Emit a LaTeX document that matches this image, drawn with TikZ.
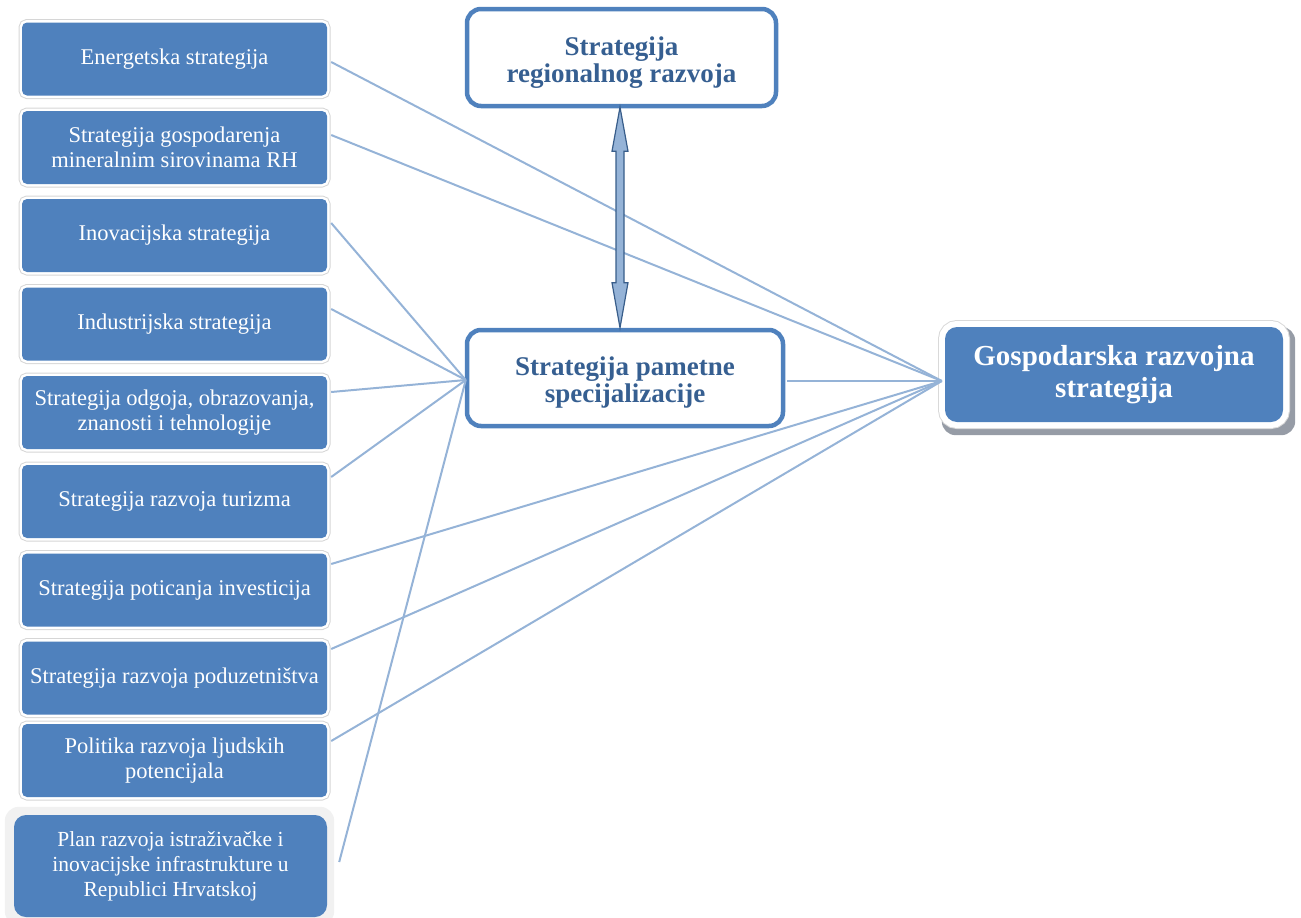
\documentclass[tikz,border=0pt]{standalone}
\usepackage{fontspec}
\setmainfont{Liberation Serif}
\usetikzlibrary{calc,backgrounds}
\definecolor{boxblue}{RGB}{79,129,189}
\definecolor{linkblue}{RGB}{149,179,215}
\definecolor{txtblue}{RGB}{54,95,145}
\definecolor{arrowline}{RGB}{56,93,138}
\definecolor{arrowfill}{RGB}{149,179,215}
\definecolor{planbg}{RGB}{241,241,241}
\definecolor{shadowgray}{RGB}{150,156,166}
\tikzset{
  leftbox/.style={rectangle, rounded corners=5pt, fill=boxblue, text=white,
    minimum width=305pt, minimum height=73pt, align=center, inner sep=0pt,
    font=\fontsize{22.5}{25}\selectfont,
    preaction={draw=black!16, line width=7pt},
    preaction={draw=white, line width=5pt}},
  planbox/.style={rectangle, rounded corners=12pt, fill=boxblue, text=white,
    minimum width=313pt, minimum height=102pt, align=center, inner sep=0pt,
    font=\fontsize{21.5}{25}\selectfont},
  mainbox/.style={rectangle, rounded corners=14pt, draw=boxblue, line width=4.5pt,
    fill=white, text=txtblue, align=center, inner sep=0pt,
    font=\bfseries\fontsize{27}{27}\selectfont},
  gosbox/.style={rectangle, rounded corners=12pt, fill=boxblue, text=white,
    minimum width=338pt, minimum height=95pt, align=center, inner sep=0pt,
    font=\bfseries\fontsize{29}{32}\selectfont,
    preaction={draw=black!15, line width=14pt},
    preaction={draw=white, line width=12pt}},
  link/.style={draw=linkblue, line width=2pt},
  blockarrow/.style={draw=arrowline, fill=arrowfill, line width=1.2pt, line join=miter}
}
\begin{document}
\begin{tikzpicture}[x=1pt,y=-1pt]
\useasboundingbox (0,0) rectangle (1301,918);

% left column
\node[leftbox] (b1) at (174.5,59) {Energetska strategija};
\node[leftbox] (b2) at (174.5,147.5) {Strategija gospodarenja\\mineralnim sirovinama RH};
\node[leftbox] (b3) at (174.5,235.5) {Inovacijska strategija};
\node[leftbox] (b4) at (174.5,324) {Industrijska strategija};
\node[leftbox] (b5) at (174.5,412.5) {Strategija odgoja, obrazovanja,\\znanosti i tehnologije};
\node[leftbox] (b6) at (174.5,501.5) {Strategija razvoja turizma};
\node[leftbox] (b7) at (174.5,590) {Strategija poticanja investicija};
\node[leftbox] (b8) at (174.5,678) {Strategija razvoja poduzetništva};
\node[leftbox] (b9) at (174.5,760.5) {Politika razvoja ljudskih\\potencijala};
\node[planbox] (b10) at (170.5,866) {Plan razvoja istraživačke i\\inovacijske infrastrukture u\\Republici Hrvatskoj};
\begin{scope}[on background layer]
  \fill[planbg, rounded corners=14pt] ($(b10.north west)+(-9,-8)$) rectangle ($(b10.south east)+(7,8)$);
\end{scope}

% centre and right
\node[mainbox, minimum width=309pt, minimum height=97pt] (top) at (621.5,57.5) {\rule{0pt}{28pt}Strategija\\regionalnog razvoja};
\node[mainbox, minimum width=316pt, minimum height=96pt] (mid) at (625,378) {\rule{0pt}{28pt}Strategija pametne\\specijalizacije};
\node[gosbox] (gos) at (1114,374.5) {Gospodarska razvojna\\strategija};
\begin{scope}[on background layer]
  \fill[shadowgray, rounded corners=14pt] ($(gos.north west)+(-3,0)$) rectangle ($(gos.south east)+(12,13)$);
\end{scope}

% connectors to the right box
\coordinate (gin) at ($(gos.west)+(-3,6.5)$);
\coordinate (min) at ($(mid.west)+(1,2)$);
\draw[link] ($(b1.east)+(4,3)$) -- (gin);
\draw[link] ($(b2.east)+(4,-12.5)$) -- (gin);
\draw[link] ($(mid.east)+(2,3)$) -- (gin);
\draw[link] ($(b7.east)+(4,-26)$) -- (gin);
\draw[link] ($(b8.east)+(4,-29)$) -- (gin);
\draw[link] ($(b9.east)+(4,-19.5)$) -- (gin);
% connectors to the middle box
\draw[link] ($(b3.east)+(4,-12.5)$) -- (min);
\draw[link] ($(b4.east)+(4,-15)$) -- (min);
\draw[link] ($(b5.east)+(4,-20.5)$) -- (min);
\draw[link] ($(b6.east)+(4,-24.5)$) -- (min);
\draw[link] ($(b10.east)+(12,-4)$) -- (min);

% double block arrow between top and mid
\draw[blockarrow] let \p1=($(top.south)+(-1.5,0)$), \p2=(mid.north) in
  (\x1,\y1+1pt) -- (\x1+8pt,\y1-43pt) -- (\x1+4pt,\y1-43pt) -- (\x1+4pt,\y2+45pt)
  -- (\x1+8pt,\y2+45pt) -- (\x1,\y2) -- (\x1-8pt,\y2+45pt) -- (\x1-4pt,\y2+45pt)
  -- (\x1-4pt,\y1-43pt) -- (\x1-8pt,\y1-43pt) -- cycle;
\end{tikzpicture}
\end{document}
